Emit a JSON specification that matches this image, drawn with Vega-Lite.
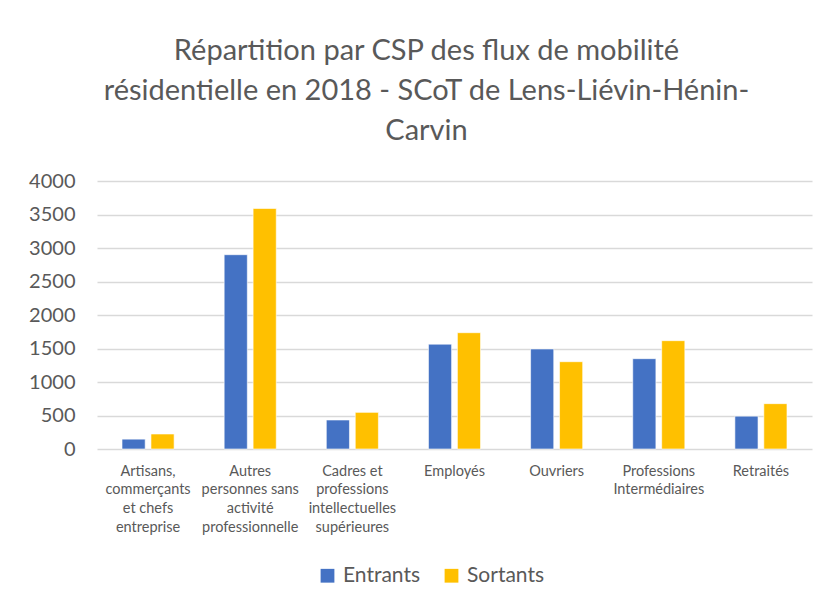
{
  "$schema": "https://vega.github.io/schema/vega-lite/v6.json",
  "width": 715,
  "height": 268,
  "autosize": {"type": "none"},
  "padding": {"left": 97, "top": 181, "right": 25, "bottom": 159},
  "background": "white",
  "title": {
    "text": ["Répartition par CSP des flux de mobilité", "résidentielle en 2018 - SCoT de Lens-Liévin-Hénin-", "Carvin"],
    "fontSize": 29,
    "font": "Lato",
    "fontWeight": "normal",
    "color": "#595959",
    "lineHeight": 40,
    "anchor": "middle",
    "dx": -28,
    "offset": 25
  },
  "data": {
    "values": [
      {"csp": "Artisans, commerçants et chefs entreprise", "serie": "Entrants", "valeur": 147},
      {"csp": "Artisans, commerçants et chefs entreprise", "serie": "Sortants", "valeur": 224},
      {"csp": "Autres personnes sans activité professionnelle", "serie": "Entrants", "valeur": 2900},
      {"csp": "Autres personnes sans activité professionnelle", "serie": "Sortants", "valeur": 3590},
      {"csp": "Cadres et professions intellectuelles supérieures", "serie": "Entrants", "valeur": 433},
      {"csp": "Cadres et professions intellectuelles supérieures", "serie": "Sortants", "valeur": 547},
      {"csp": "Employés", "serie": "Entrants", "valeur": 1565},
      {"csp": "Employés", "serie": "Sortants", "valeur": 1736},
      {"csp": "Ouvriers", "serie": "Entrants", "valeur": 1493},
      {"csp": "Ouvriers", "serie": "Sortants", "valeur": 1303},
      {"csp": "Professions Intermédiaires", "serie": "Entrants", "valeur": 1348},
      {"csp": "Professions Intermédiaires", "serie": "Sortants", "valeur": 1617},
      {"csp": "Retraités", "serie": "Entrants", "valeur": 490},
      {"csp": "Retraités", "serie": "Sortants", "valeur": 677}
    ]
  },
  "mark": {"type": "bar", "stroke": "white", "strokeWidth": 0.6},
  "encoding": {
    "x": {
      "field": "csp",
      "type": "nominal",
      "sort": null,
      "title": null,
      "scale": {"paddingInner": 0.49, "paddingOuter": 0.245},
      "axis": {
        "labelAngle": 0,
        "labelFont": "Lato",
        "labelFontSize": 14.5,
        "labelColor": "#595959",
        "labelLineHeight": 18.7,
        "labelPadding": 15,
        "labelLimit": 0,
        "ticks": false,
        "domain": false,
        "labelExpr": "datum.value == 'Artisans, commerçants et chefs entreprise' ? ['Artisans,', 'commerçants', 'et chefs', 'entreprise'] : datum.value == 'Autres personnes sans activité professionnelle' ? ['Autres', 'personnes sans', 'activité', 'professionnelle'] : datum.value == 'Cadres et professions intellectuelles supérieures' ? ['Cadres et', 'professions', 'intellectuelles', 'supérieures'] : datum.value == 'Professions Intermédiaires' ? ['Professions', 'Intermédiaires'] : datum.value"
      }
    },
    "xOffset": {
      "field": "serie",
      "type": "nominal",
      "scale": {"paddingInner": 0.2, "paddingOuter": 0}
    },
    "y": {
      "field": "valeur",
      "type": "quantitative",
      "title": null,
      "scale": {"domain": [0, 4000]},
      "axis": {
        "values": [0, 500, 1000, 1500, 2000, 2500, 3000, 3500, 4000],
        "format": "d",
        "labelFont": "Lato",
        "labelFontSize": 20,
        "labelColor": "#595959",
        "labelPadding": 22,
        "ticks": false,
        "domain": false,
        "gridColor": "#d9d9d9",
        "gridWidth": 1.5
      }
    },
    "color": {
      "field": "serie",
      "type": "nominal",
      "title": null,
      "scale": {"domain": ["Entrants", "Sortants"], "range": ["#4472c4", "#ffc000"]},
      "legend": {
        "orient": "none",
        "legendX": 220,
        "legendY": 384,
        "direction": "horizontal",
        "symbolType": "square",
        "symbolSize": 190,
        "symbolStrokeWidth": 0,
        "labelFont": "Lato",
        "labelFontSize": 21,
        "labelColor": "#595959",
        "labelOffset": 5,
        "columnPadding": 20
      }
    }
  },
  "config": {
    "view": {"stroke": null}
  }
}
